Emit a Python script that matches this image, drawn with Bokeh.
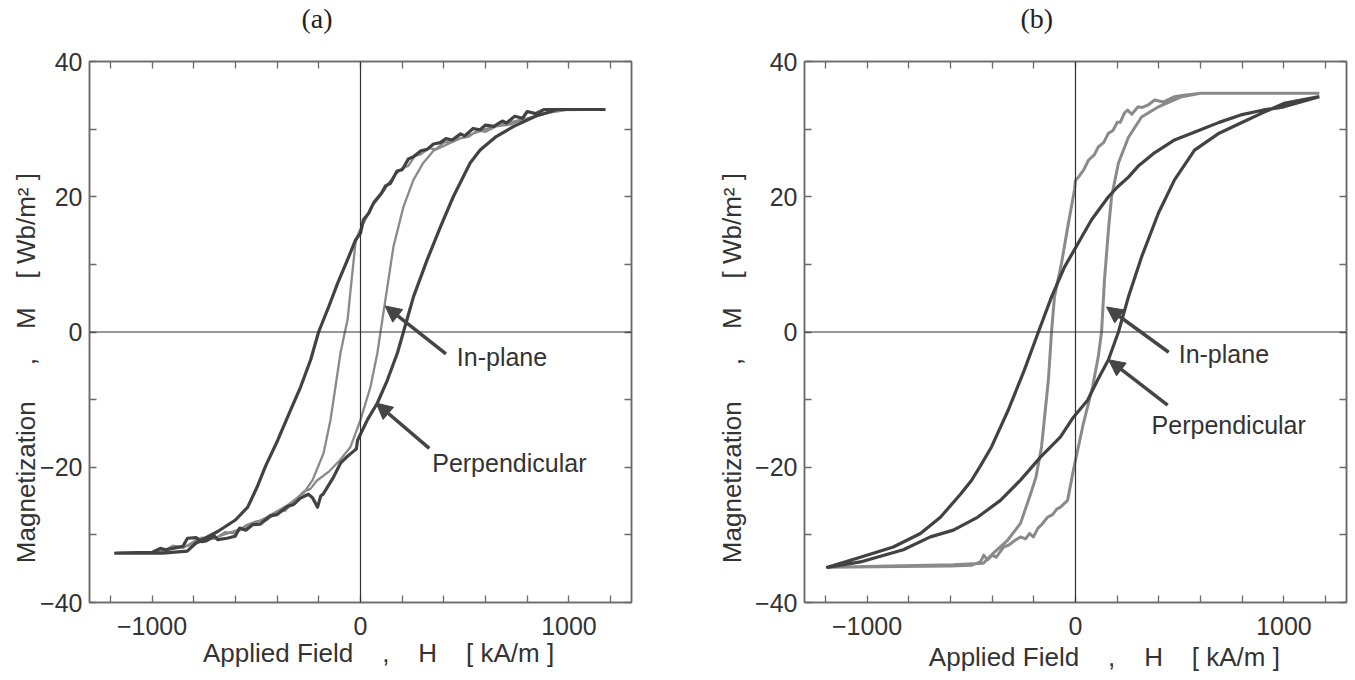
from bokeh.plotting import figure
from bokeh.layouts import row
from bokeh.models import (Range1d, FixedTicker, LinearAxis, Span, Arrow, NormalHead, Label)
from bokeh.embed import file_html
from bokeh.resources import INLINE

# ---------------- data ----------------
# panel (a): perpendicular loop (descending branch, then ascending branch)
a_perp_x = [1175, 1000, 881, 840, 800, 777, 740, 700, 680, 640, 600, 574, 540, 500, 480, 440, 410, 383, 350, 320, 290, 254,
            230, 200, 175, 144, 120, 100, 63, 40, 14, 0, -10, -24, -62, -110, -153, -201,
            -239, -287, -335, -397, -455, -497, -541, -600, -685, -789, -831, -950, -1175,
            -1175, -1000, -960, -935, -890, -852, -830, -789, -760, -740, -700, -685, -640, -601, -580, -550, -518, -480,
            -434, -400, -351, -320, -290, -250, -230, -206, -190, -180, -158, -130, -96, -70, -40, -20,
            -14, 33, 81, 129, 177, 206, 254, 320, 383, 445, 526, 574, 651, 735, 839, 944, 1175]
a_perp_y = [32.9, 32.9, 32.9, 32.3, 32.6, 31.6, 31.9, 30.9, 31.2, 30.4, 30.6, 29.9, 30.1, 29.0, 29.3, 28.4, 28.6, 28.0, 27.8, 27.0, 26.8, 25.9,
            25.6, 24.0, 23.8, 22.0, 21.6, 20.5, 19.1, 17.6, 16.6, 14.6, 14.2, 13.6, 10.7, 7.2, 3.7, 0.0,
            -4.1, -8.1, -11.5, -16.0, -19.8, -23.0, -25.9, -27.8, -29.5, -31.2, -32.4, -32.7, -32.7,
            -32.7, -32.6, -32.0, -32.2, -31.9, -31.7, -30.5, -30.4, -31.0, -30.9, -30.2, -30.7, -30.5, -30.2, -29.0, -29.3, -28.5, -28.4,
            -27.2, -27.0, -25.8, -25.5, -24.6, -24.0, -24.5, -25.9, -24.2, -24.0, -22.9, -21.5, -19.4, -18.6, -17.8, -17.3,
            -16.0, -13.0, -10.5, -7.1, -3.1, 0.0, 5.2, 10.7, 15.5, 20.0, 25.0, 26.9, 28.9, 30.4, 31.9, 32.9, 32.9]
# panel (a): in-plane loop
a_inp_x = [1175, 950, 850, 800, 760, 720, 650, 600, 560, 520, 470, 430, 400, 360, 330, 290, 260, 230, 200, 170, 140, 110,
           80, 50, 30, -10, -24, -45, -62, -75, -96, -120, -144,
           -177, -230, -272, -350, -450, -550, -700, -850, -1000, -1175,
           -1175, -950, -900, -850, -800, -760, -700, -650, -600, -550, -500, -450, -400, -360, -320, -272, -240, -210,
           -150, -100, -48, 0, 48, 81, 96, 129, 158, 206, 254, 301,
           350, 420, 500, 600, 700, 800, 900, 1000, 1175]
a_inp_y = [32.9, 32.8, 32.0, 31.4, 31.2, 30.7, 30.4, 29.6, 29.8, 28.9, 28.6, 28.2, 28.0, 27.0, 27.2, 26.3, 26.0, 24.6, 24.2, 23.4, 22.2, 20.8,
           19.6, 18.4, 17.0, 14.6, 13.2, 7.0, 1.8, 0.0, -3.1, -8.1, -13.0,
           -17.9, -21.9, -23.8, -25.6, -27.4, -28.9, -30.4, -31.8, -32.6, -32.7,
           -32.7, -32.5, -31.6, -31.9, -31.0, -30.4, -30.6, -29.6, -29.8, -28.6, -28.0, -27.8, -26.6, -26.4, -25.0, -23.6, -23.2, -22.0,
           -20.6, -19.0, -17.0, -13.0, -8.1, -3.1, 0.0, 6.7, 12.6, 18.5, 22.5, 25.0,
           26.8, 27.8, 28.9, 30.0, 30.9, 31.6, 32.4, 32.9, 32.9]

# panel (b): perpendicular loop
b_perp_x = [1170, 1000, 897, 793, 689, 600, 475, 379, 300, 254, 200, 158, 77, 14, -53, -115, -178, -245, -322, -403, -456,
            -500, -552, -648, -744, -874, -1032, -1190,
            -1190, -1032, -826, -696, -586, -470, -360, -264, -168, -72, -10, 58, 106, 158, 206, 254, 317, 398, 475, 571,
            689, 793, 897, 1000, 1170]
b_perp_y = [34.8, 33.3, 32.8, 32.1, 31.0, 29.9, 28.4, 26.5, 24.5, 22.9, 21.4, 20.0, 16.6, 13.2, 9.6, 5.2, 0.0, -5.6, -11.5, -17.0, -19.8,
            -22.0, -24.0, -27.4, -29.8, -31.8, -33.3, -34.8,
            -34.8, -34.0, -32.2, -30.3, -29.3, -27.4, -24.9, -21.9, -18.5, -15.5, -12.6, -10.1, -7.1, -4.1, 0.0, 5.2, 11.1, 17.6, 22.5, 26.9,
            29.4, 30.9, 32.4, 33.8, 34.8]
# panel (b): in-plane loop
b_inp_x = [1170, 600, 520, 475, 420, 380, 350, 320, 300, 270, 250, 235, 215, 200, 180, 158, 135, 110, 90, 62, 40, 14, 0, -5,
           -34, -67, -101, -115, -130, -163, -190, -216, -264,
           -326, -394, -442, -586, -1190,
           -1190, -600, -500, -456, -440, -422, -400, -380, -345, -320, -290, -264, -240, -220, -202, -180, -160, -134, -110,
           -90, -72, -38, -10, 38, 82, 110, 125, 139, 158, 173, 206, 254, 317,
           398, 509, 600, 1170]
b_inp_y = [35.3, 35.3, 35.0, 34.8, 34.0, 34.3, 33.6, 33.2, 33.3, 32.2, 32.8, 32.4, 31.0, 31.0, 29.8, 29.4, 28.0, 27.4, 26.2, 25.4, 24.0, 22.9, 22.4, 21.0,
           16.1, 10.2, 5.2, 0.0, -7.1, -17.0, -21.5, -24.0, -28.3,
           -30.8, -32.7, -34.2, -34.4, -34.8,
           -34.8, -34.6, -34.5, -34.0, -33.0, -33.7, -33.0, -33.3, -31.8, -31.5, -30.8, -30.3, -30.6, -29.8, -30.3, -29.0, -28.4, -27.4, -27.0,
           -26.2, -25.9, -24.9, -20.4, -13.5, -8.1, -3.5, 0.0, 7.7, 15.1, 20.0, 25.0, 28.8, 31.8,
           33.3, 34.8, 35.3, 35.3]

x_ticks = [-1200, -1000, -800, -600, -400, -200, 0, 200, 400, 600, 800, 1000, 1200]
x_tick_labels = {-1000: "\u22121000", 0: "0", 1000: "1000"}
y_ticks = [-40, -30, -20, -10, 0, 10, 20, 30, 40]
y_tick_labels = {-40: "\u221240", -20: "\u221220", 0: "0", 20: "20", 40: "40"}

NB = "\u00a0"
x_label = "Applied Field" + NB * 4 + "," + NB * 4 + "H" + NB * 4 + "[" + NB + "kA/m" + NB + "]"
y_label = "Magnetization" + NB * 5 + "," + NB * 4 + "M" + NB * 4 + "[" + NB + "Wb/m\u00b2" + NB + "]"

DARK = "#424242"
GRAY = "#8a8a8a"
FRAME = "#6a6a6a"
FONT = "Liberation Sans"
FIG_H = 676


def make_panel(title, width, bl, br, title_offset, perp, inp, gray_w, arrows, xpad, ylab_std, xlab_std):
    p = figure(width=width, height=FIG_H, output_backend="svg", toolbar_location=None,
               x_range=Range1d(-1300, 1300), y_range=Range1d(-40, 40),
               min_border_left=bl, min_border_right=br, min_border_top=61,
               min_border_bottom=FIG_H - 61 - 541,
               x_axis_location=None, y_axis_location=None)
    p.grid.visible = False
    p.outline_line_color = FRAME
    p.outline_line_width = 1.5
    p.background_fill_color = "white"
    p.border_fill_color = "white"

    p.title.text = title
    p.title.align = "left"
    p.title.offset = title_offset
    p.title.text_font = "Liberation Serif"
    p.title.text_font_size = "28px"
    p.title.text_font_style = "normal"
    p.title.text_color = "#222222"
    p.title.standoff = 0

    def style(ax, labels, size, standoff):
        ax.major_tick_in = 7
        ax.major_tick_out = 0
        ax.minor_tick_line_color = None
        ax.major_tick_line_color = FRAME
        ax.major_tick_line_width = 1.3
        ax.axis_line_color = FRAME
        ax.axis_line_width = 1.5
        ax.major_label_text_font = FONT
        ax.major_label_text_font_size = size
        ax.major_label_text_color = "#333333"
        ax.major_label_standoff = standoff
        ax.major_label_overrides = labels

    xl = {t: x_tick_labels.get(t, "") for t in x_ticks}
    yl = {t: y_tick_labels.get(t, "") for t in y_ticks}
    xb = LinearAxis(ticker=FixedTicker(ticks=x_ticks))
    style(xb, xl, "25px", 14)
    xb.axis_label = NB * xpad + x_label
    xb.axis_label_text_font = FONT
    xb.axis_label_text_font_size = "26px"
    xb.axis_label_text_font_style = "normal"
    xb.axis_label_text_color = "#333333"
    xb.axis_label_standoff = xlab_std
    p.add_layout(xb, "below")

    yb = LinearAxis(ticker=FixedTicker(ticks=y_ticks))
    style(yb, yl, "25px", 7)
    yb.axis_label = y_label + NB * 10
    yb.axis_label_text_font = FONT
    yb.axis_label_text_font_size = "26px"
    yb.axis_label_text_font_style = "normal"
    yb.axis_label_text_color = "#333333"
    yb.axis_label_standoff = ylab_std
    p.add_layout(yb, "left")

    # mirrored tick marks on top / right (no labels); the top one also spaces the title
    xt = LinearAxis(ticker=FixedTicker(ticks=x_ticks))
    style(xt, {t: "" for t in x_ticks}, "0px", 0)
    xt.axis_label = NB
    xt.axis_label_text_font_size = "20px"
    xt.axis_label_text_color = "white"
    xt.axis_label_standoff = 3
    p.add_layout(xt, "above")
    yr = LinearAxis(ticker=FixedTicker(ticks=y_ticks))
    style(yr, {t: "" for t in y_ticks}, "0px", 0)
    p.add_layout(yr, "right")

    p.add_layout(Span(location=0, dimension="width", line_color="#333333", line_width=1.2))
    p.add_layout(Span(location=0, dimension="height", line_color="#333333", line_width=1.2))

    p.line(inp[0], inp[1], line_color=GRAY, line_width=gray_w, line_join="round")
    p.line(perp[0], perp[1], line_color=DARK, line_width=3.2, line_join="round")

    for (x0, y0, x1, y1, tx, ty, txt) in arrows:
        p.add_layout(Arrow(x_start=x0, y_start=y0, x_end=x1, y_end=y1, line_color="#454545", line_width=3.5,
                           end=NormalHead(size=16, fill_color="#454545", line_color="#454545")))
        p.add_layout(Label(x=tx, y=ty, text=txt, text_font=FONT, text_font_size="25px",
                           text_color="#333333", text_baseline="middle", text_align="left"))
    return p


arrows_a = [(410, -3.25, 118, 3.85, 462, -3.7, "In-plane"),
            (330, -17.2, 75, -10.5, 344, -19.4, "Perpendicular")]
arrows_b = [(447, -3.0, 149, 3.7, 495, -3.3, "In-plane"),
            (442, -10.8, 159, -4.1, 365, -13.8, "Perpendicular")]

p1 = make_panel("(a)", 692, 89, 61, 212, (a_perp_x, a_perp_y), (a_inp_x, a_inp_y), 2.3, arrows_a, 5, -4, 0)
p2 = make_panel("(b)", 656, 112, 2, 216, (b_perp_x, b_perp_y), (b_inp_x, b_inp_y), 3.0, arrows_b, 8, 5, 4)

layout = row(p1, p2)
open("out.html", "w").write(file_html(layout, INLINE))
